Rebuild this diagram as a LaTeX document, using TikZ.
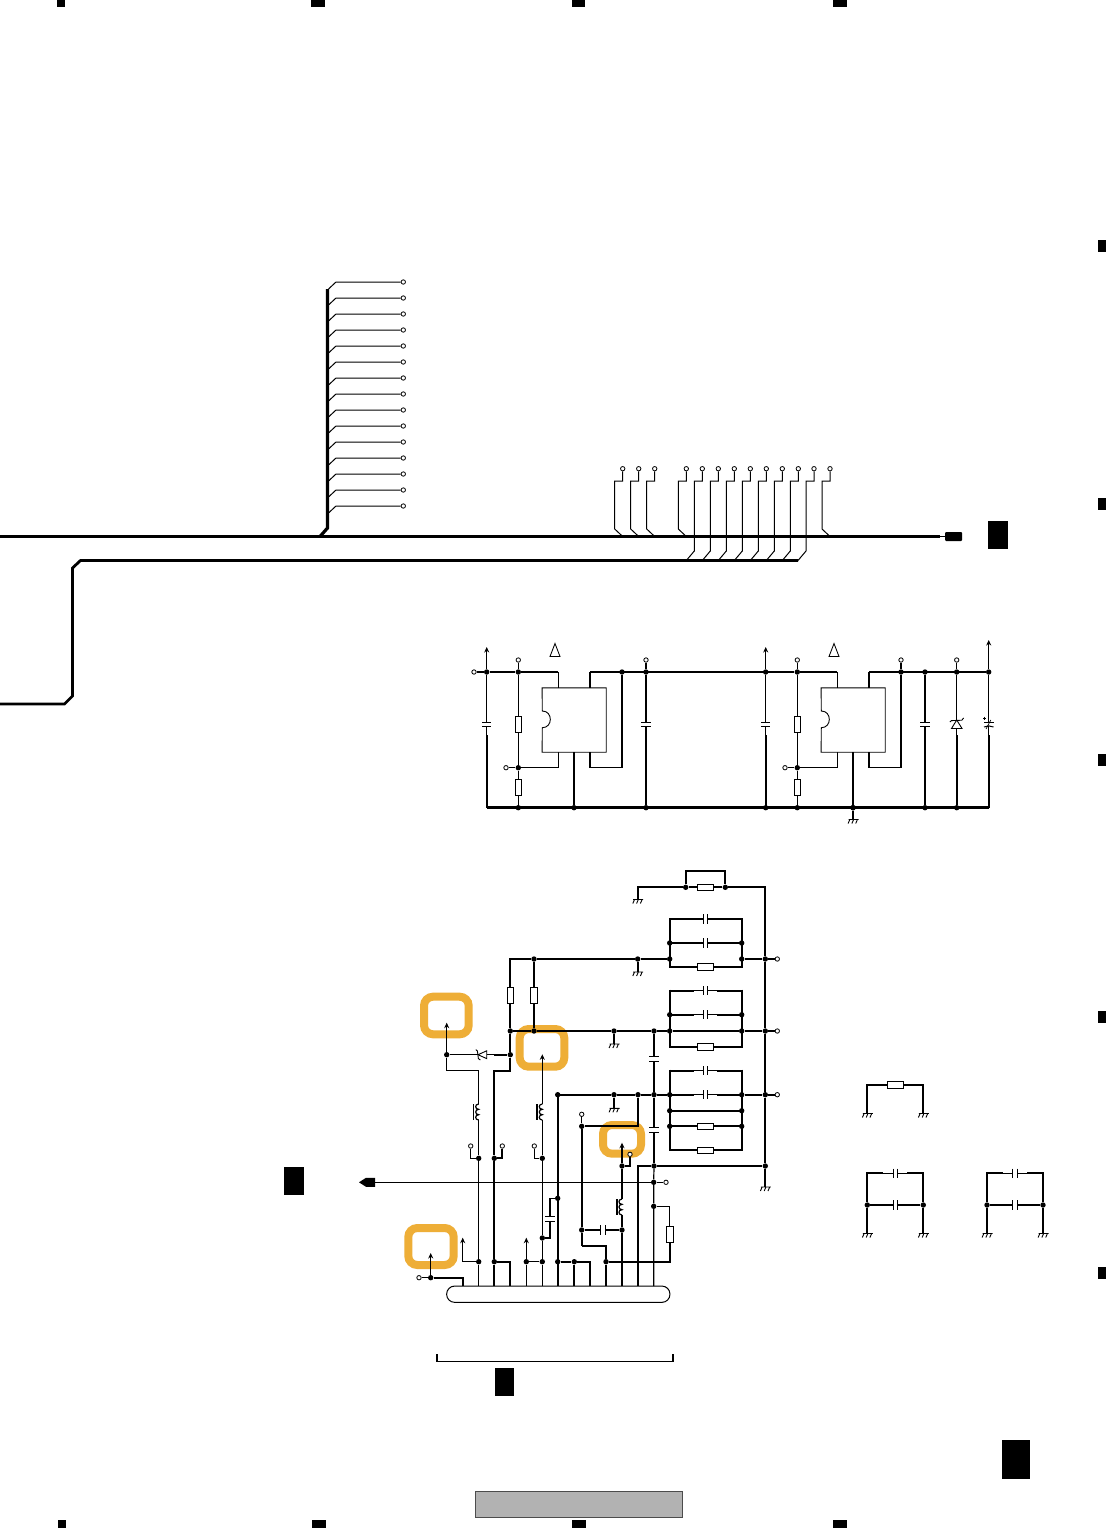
\documentclass[tikz,border=0pt]{standalone}
\usetikzlibrary{arrows.meta}
\definecolor{hilite}{HTML}{EEAE37}
\definecolor{pagebox}{HTML}{B2B2B2}
\tikzset{
  thinw/.style={line width=1.2pt,line join=miter},
  topw/.style={line width=1.5pt,line join=miter},
  medw/.style={line width=1.9pt,line join=miter},
  thickw/.style={line width=2.3pt,line join=miter},
  busw/.style={line width=2.8pt,line join=miter},
  arrowup/.style={thinw,-{Stealth[length=5.5pt,width=5pt]}},
  dot/.style={circle,fill=black,inner sep=0pt,minimum size=5.4pt},
  term/.style={circle,draw=black,fill=white,line width=0.8pt,inner sep=0pt,minimum size=4.4pt},
  resv/.style={rectangle,draw=black,fill=white,line width=0.9pt,inner sep=0pt,minimum width=6.6pt,minimum height=16pt},
  resh/.style={rectangle,draw=black,fill=white,line width=0.9pt,inner sep=0pt,minimum width=16.4pt,minimum height=6.6pt},
  capv/.style={rectangle,inner sep=0pt,minimum width=9pt,minimum height=4.2pt},
  caph/.style={rectangle,inner sep=0pt,minimum width=4.2pt,minimum height=9pt},
  plate/.style={line width=1pt},
  blackbox/.style={rectangle,fill=black,inner sep=0pt},
  coilbox/.style={rectangle,inner sep=0pt,minimum width=0.2pt,minimum height=16pt},
  halo/.style={draw=hilite,line width=8pt,rounded corners=9pt},
}
\newcommand{\J}[3]{\node[dot] (#1) at (#2,#3) {};}
\newcommand{\Tm}[3]{\node[term] (#1) at (#2,#3) {};}
\newcommand{\CV}[3]{\node[capv] (#1) at (#2,#3) {};
  \draw[plate] (#1.north west) -- (#1.north east) (#1.south west) -- (#1.south east);}
\newcommand{\CH}[3]{\node[caph] (#1) at (#2,#3) {};
  \draw[plate] (#1.north west) -- (#1.south west) (#1.north east) -- (#1.south east);}
\newcommand{\Gnd}[3]{\coordinate (#1) at (#2,#3);
  \draw[line width=0.9pt,shift={(#2,#3)}] (-4.5,0) -- (5.5,0)
    (-3.2,0) -- (-4.9,4) (0.6,0) -- (-1.1,4) (4.4,0) -- (2.7,4);}
\newcommand{\Ind}[3]{\node[coilbox] (#1) at (#2,#3) {};
  \draw[thinw,shift={(#2,#3)}] (0,-8) .. controls (-4,-8) and (-4,-2.6) .. (0,-2.7)
     .. controls (-4,-2.6) and (-4,2.6) .. (0,2.7)
     .. controls (-4,2.6) and (-4,8) .. (0,8);
  \draw[medw,shift={(#2,#3)}] (-5.2,-8) -- (-5.2,8);}
% capacitor and resistor rows of the parallel groups
\newcommand{\CapRow}[2]{\CH{#1}{705.3}{#2}
  \draw[medw] (669.7,#2) -- (694,#2); \draw[thinw] (694,#2) -- (#1.west);
  \draw[thinw] (#1.east) -- (717.3,#2); \draw[medw] (717.3,#2) -- (741.7,#2);}
\newcommand{\ResRow}[2]{\node[resh] (#1) at (705.5,#2) {};
  \draw[medw] (669.7,#2) -- (#1) -- (741.7,#2);}
\begin{document}
\begin{tikzpicture}[x=1pt,y=-1pt]
\useasboundingbox (0,0) rectangle (1106,1529);
\fill[white] (0,0) rectangle (1106,1529);

% ---------- registration marks and page furniture ----------
\foreach \a/\b in {57/65,311/325,572/585,833/847} \fill[black] (\a,0) rectangle (\b,7);
\foreach \a/\b in {58/66,312/326,572/586,833/847} \fill[black] (\a,1520) rectangle (\b,1528);
\foreach \a/\b in {240/252,498/510,754/766,1011/1023,1267/1279} \fill[black] (1098,\a) rectangle (1106,\b);
\node[blackbox,minimum width=20pt,minimum height=28pt] (tabA) at (998,535) {};
\node[blackbox,minimum width=20pt,minimum height=28pt] (tabB) at (294,1181) {};
\node[blackbox,minimum width=19pt,minimum height=28pt] (tabC) at (504.5,1382) {};
\node[blackbox,minimum width=28pt,minimum height=39pt] (tabD) at (1016,1459.5) {};
\node[rectangle,draw=black!70,fill=pagebox,line width=0.5pt,inner sep=0pt,minimum width=207pt,minimum height=26pt] (footer) at (578.5,1504) {};

% ---------- highlights ----------
\draw[halo] (424,996.7) rectangle (468.7,1034.3);
\draw[halo] (519.7,1029) rectangle (564.3,1066.7);
\draw[halo] (603,1125) rectangle (641,1153.7);
\draw[halo] (408.3,1228) rectangle (453.7,1265);

% ---------- top buses ----------
\node[rectangle,fill=black,rounded corners=1pt,inner sep=0pt,minimum width=17pt,minimum height=9pt] (conn) at (953.5,536.5) {};
\coordinate (busL) at (0,536.5);
\coordinate (busR) at (940,536.5);
\draw[busw] (busL) -- (busR);
\draw[thinw] (busR) -- (conn);
\coordinate (lowL) at (0,704);
\coordinate (lowR) at (798,560.5);
\draw[busw] (lowL) -- (64.5,704) -- (72.5,696) -- (72.5,568) -- (80.5,560.5) -- (lowR);
\coordinate (vbT) at (327.5,289);
\draw[line width=3.2pt] (vbT) -- (327.5,528) -- (320,536.5);
\foreach \i in {0,...,14}{
  \pgfmathsetmacro{\yy}{282+16*\i}
  \pgfmathsetmacro{\yb}{289+16*\i}
  \Tm{w\i}{403.3}{\yy}
  \draw[line width=1pt] (328.5,\yb) -- (336,\yy) -- (w\i);
}
\foreach \x [count=\n] in {622.7,638.7,654.7,686.3,830}{
  \Tm{p\n}{\x}{468.7}
  \draw[line width=1pt] (p\n) -- (\x,481) -- ++(-8,0) -- ++(0,48) -- (\x,536.5);
}
\foreach \x [count=\n] in {702.3,718.3,734.3,750.3,766.3,782.3,798.3,814}{
  \Tm{q\n}{\x}{468.7}
  \draw[line width=1pt] (q\n) -- (\x,481) -- ++(-8,0) -- ++(0,70) -- ++(-8,9.5);
}

% ---------- regulators ----------
\foreach \p/\dx in {a/0,b/279}{
\begin{scope}[xshift=\dx pt]
  \J{\p1}{486.7}{672}
  \J{\p2}{518.3}{672}
  \J{\p3}{518.3}{767.7}
  \J{\p4}{518.3}{807.7}
  \J{\p5}{574}{807.7}
  \J{\p6}{622}{672}
  \J{\p7}{646}{672}
  \J{\p8}{646}{807.7}
  \Tm{\p t1}{518.3}{660}
  \Tm{\p t2}{506}{767.7}
  \coordinate (\p arr) at (486.7,647);
  \draw[arrowup] (\p1) -- (\p arr);
  \draw[thinw] (\p t1) -- (\p2);
  \CV{\p c1}{486.7}{724.3}
  \draw[thinw] (\p1) -- (\p c1.north);
  \draw[thinw] (\p c1.south) -- (486.7,735);
  \draw[medw] (486.7,735) -- (486.7,807.7);
  \CV{\p c2}{646}{724.3}
  \draw[topw] (\p7) -- (\p c2.north);
  \draw[thinw] (\p c2.south) -- (646,735);
  \draw[thickw] (646,735) -- (\p8);
  \node[resv] (\p r1) at (518.3,724) {};
  \node[resv] (\p r2) at (518.3,787.5) {};
  \draw[thinw] (\p2) -- (\p r1) -- (\p3) -- (\p r2);
  \draw[topw] (\p r2) -- (\p4);
  \draw[thinw] (\p t2) -- (\p3) -- (558.3,767.7) -- (558.3,752);
  \node[rectangle,inner sep=0pt,minimum width=63.7pt,minimum height=64pt] (\p ic) at (574.15,720) {};
  \draw[line width=0.9pt,fill=white] (\p ic.north west) -- (\p ic.north east) -- (\p ic.south east) -- (\p ic.south west)
     -- (542.3,727.7) .. controls (553,727.7) and (553,711) .. (542.3,711) -- cycle;
  \draw[thinw] (558.3,672) -- (558.3,688);
  \draw[thinw] (590,672) -- (590,688);
  \draw[topw] (590,752) -- (590,767.7) -- (622,767.7) -- (\p6);
  \draw[thinw] (574,752) -- (574,760);
  \draw[thickw] (574,760) -- (\p5);
  \draw[line width=0.85pt] (555,643.5) -- (550,656.5) -- (560,656.5) -- cycle;
\end{scope}
}
\J{b2x}{765.7}{807.7}
\Tm{at0}{474}{672}
\Tm{at1}{646}{660}
\Tm{bt1}{901}{660}
\Tm{ct}{956.7}{660}
\J{c1}{956.7}{672}
\J{c2}{988.7}{672}
\J{c3}{956.7}{807.7}
\J{c4}{853}{807.7}
\coordinate (c5) at (988.7,807.7);
\coordinate (c6) at (988.7,640);
\draw[thinw] (at0) -- (a1);
\draw[topw] (a1) -- (a2) -- (558.3,672);
\draw[topw] (590,672) -- (b2);
\draw[topw] (b2) -- (837.3,672);
\draw[topw] (869,672) -- (c2);
\draw[thinw] (at1) -- (a7);
\draw[thinw] (bt1) -- (b6);
\draw[thinw] (ct) -- (c1);
\draw[arrowup] (c2) -- (c6);
\draw[busw] (a1 |- a4) -- (c5);
\Gnd{g0}{853}{819.5}
\draw[thinw] (c4) -- (g0);
% zener
\draw[thinw] (c1) -- (956.7,720);
\draw[line width=0.9pt] (956.7,720) -- (951.5,728.5) -- (962,728.5) -- cycle;
\draw[line width=0.9pt] (949.8,722) -- (951.5,720.6) -- (961.8,720.2) -- (963.6,718);
\draw[thinw] (956.7,728.5) -- (956.7,735);
\draw[thickw] (956.7,735) -- (c3);
% polarised capacitor
\draw[thinw] (c2) -- (988.7,722);
\draw[plate] (984,722) -- (993.5,722);
\draw[plate] (984,727) .. controls (987,725.5) and (990.5,725.5) .. (993.5,727);
\draw[line width=0.7pt] (983,718) -- (986,718) (984.5,716.5) -- (984.5,719.5);
\draw[line width=0.7pt] (986,729) -- (990.8,720);
\draw[thinw] (988.7,726) -- (988.7,735);
\draw[thickw] (988.7,735) -- (c5);

% ---------- lower block : power rails ----------
\J{l1}{685.7}{887.3}
\J{l2}{725.3}{887.3}
\J{l3}{765.3}{959}
\J{l4}{765.3}{1031}
\J{l5}{765.3}{1094.7}
\J{l6}{765.3}{1166}
\Tm{o1}{777.3}{959}
\Tm{o2}{777.3}{1031}
\Tm{o3}{777.3}{1094.7}
\Gnd{g1}{637.7}{899.5}
\Gnd{g2}{637.7}{972}
\Gnd{g3}{614}{1044}
\Gnd{g4}{614}{1108.3}
\Gnd{g5}{765.3}{1187}
\node[resh] (r0) at (705.5,887.3) {};
\draw[medw] (g1) -- (637.7,887.3) -- (l1) -- (r0) -- (l2) -- (765.3,887.3) -- (l3);
\draw[medw] (l1) -- (685.7,871.3) -- (725.3,871.3) -- (l2);
\draw[medw] (l3) -- (l4) -- (l5) -- (l6);
\draw[medw] (l6) -- (g5);

% group 1
\CapRow{gc1}{919}
\CapRow{gc2}{943}
\ResRow{gr1}{967}
\draw[medw] (669.7,918) -- (669.7,968);
\draw[medw] (741.7,918) -- (741.7,968);
\foreach \n/\x/\y in {e1/669.7/943,e2/741.7/943,e3/669.7/959,e4/741.7/959,e5/534/959,e6/637.7/959}{\J{\n}{\x}{\y}}
% group 2
\CapRow{gc3}{990.7}
\CapRow{gc4}{1014.7}
\ResRow{gr2}{1046.7}
\draw[medw] (669.7,989.7) -- (669.7,1047.7);
\draw[medw] (741.7,989.7) -- (741.7,1047.7);
\foreach \n/\x/\y in {f1/669.7/1014.7,f2/741.7/1014.7,f3/669.7/1031,f4/741.7/1031,f5/510.3/1031,f6/534/1031,f7/614/1031,f8/654/1031}{\J{\n}{\x}{\y}}
% group 3
\CapRow{gc5}{1070.7}
\CapRow{gc6}{1094.7}
\ResRow{gr3}{1126.3}
\ResRow{gr4}{1150.3}
\draw[medw] (669.7,1110.7) -- (741.7,1110.7);
\draw[medw] (669.7,1069.7) -- (669.7,1151.3);
\draw[medw] (741.7,1069.7) -- (741.7,1151.3);
\foreach \n/\x/\y in {h1/669.7/1094.7,h2/741.7/1094.7,h3/669.7/1110.7,h4/741.7/1110.7,h5/669.7/1126.3,h6/741.7/1126.3,h7/614/1094.7,h8/638/1094.7,h9/654/1094.7}{\J{\n}{\x}{\y}}

% rails
\draw[medw] (f5) -- (510.3,959) -- (e5) -- (e6) -- (e3);
\draw[medw] (e4) -- (l3) -- (o1);
\draw[busw] (f5) -- (f6) -- (f7) -- (f8) -- (f3) -- (f4) -- (l4);
\draw[medw] (l4) -- (o2);
\draw[medw] (h2) -- (l5) -- (o3);
\draw[medw] (557.7,1286) -- (557.7,1094.7) -- (h7) -- (h8) -- (h9) -- (h1);
\draw[medw] (e6) -- (g2);
\draw[medw] (f7) -- (g3);
\draw[medw] (h7) -- (g4);
\node[resv] (r1) at (510.3,995.3) {};
\node[resv] (r2) at (534,995.3) {};
\draw[thinw] (510.3,959) -- (r1) -- (f5);
\draw[medw] (e5) -- (r2);
\draw[medw] (r2) -- (f6);
% decoupling capacitors on the 654 rail
\CV{dc1}{654}{1058.7}
\CV{dc2}{654}{1130}
\J{k1}{654}{1166}
\draw[thickw] (f8) -- (654,1050);
\draw[thinw] (654,1050) -- (dc1.north);
\draw[thinw] (dc1.south) -- (654,1068);
\draw[thickw] (654,1068) -- (h9) -- (654,1122);
\draw[thinw] (654,1122) -- (dc2.north);
\draw[thinw] (dc2.south) -- (654,1140);
\draw[thickw] (654,1140) -- (k1);
\draw[medw] (638,1286) -- (638,1166) -- (k1) -- (l6);

% ---------- connector and pins ----------
\node[rectangle,draw=black,line width=1pt,fill=white,rounded corners=8pt,inner sep=0pt,minimum width=223.3pt,minimum height=16.3pt] (cn) at (558.3,1294.2) {};
\foreach \n/\x in {1/462.7,2/478.7,3/494.3,4/510.3,5/526.3,6/542.3,7/558.3,8/574.3,9/590,10/606,11/622,12/638,13/653.7}{
  \coordinate (pin\n) at (\x,1286);
}
% pin 1
\J{s1}{430.7}{1277.7}
\Tm{s2}{419}{1277.7}
\coordinate (s3) at (430.7,1253);
\draw[medw] (pin1) -- (462.7,1277.7) -- (s1);
\draw[thinw] (s2) -- (s1);
\draw[arrowup,line width=1.3pt] (s1) -- (s3);
% pin 2
\J{s4}{478.7}{1261.7}
\J{s5}{478.7}{1158.3}
\Tm{s6}{470.7}{1146}
\coordinate (s7) at (462.7,1237.7);
\Ind{i1}{478.7}{1112}
\J{s8}{446.7}{1054.7}
\coordinate (s9) at (446.7,1022.7);
\draw[thinw] (pin2) -- (s4) -- (s5) -- (i1.south);
\draw[thinw] (i1.north) -- (478.7,1070.7) -- (446.7,1070.7) -- (s8);
\draw[arrowup] (s8) -- (s9);
\draw[thinw] (s6) -- (470.7,1158.3) -- (s5);
\draw[arrowup] (462.7,1261.7) -- (s7);
\draw[thinw] (s4) -- (462.7,1261.7);
% zener on feedback line
\J{s10}{510.3}{1054.7}
\draw[thinw] (s8) -- (478,1054.7);
\draw[line width=0.9pt] (478,1054.7) -- (486.7,1050.8) -- (486.7,1058.6) -- cycle;
\draw[line width=0.9pt] (475.8,1049.6) -- (477.4,1051) -- (478.4,1058.6) -- (480.4,1060);
\draw[thinw] (486.7,1054.7) -- (494.3,1054.7);
\draw[medw] (494.3,1054.7) -- (s10);
% pin 3
\J{s11}{494.3}{1261.7}
\J{s12}{494.3}{1158.3}
\Tm{s13}{502.3}{1146}
\draw[medw] (pin3) -- (s11) -- (s12) -- (494.3,1070.7) -- (510.3,1070.7) -- (s10) -- (f5);
\draw[medw] (s12) -- (502.3,1158.3) -- (s13);
\draw[thickw] (s11) -- (510.3,1261.7) -- (pin4);
% pins 5,6
\J{s14}{526.3}{1261.7}
\J{s15}{542.3}{1261.7}
\coordinate (s16) at (526.3,1237.7);
\draw[thinw] (pin5) -- (s14);
\draw[arrowup] (s14) -- (s16);
\draw[thinw] (s14) -- (s15);
\J{s17}{542.3}{1238}
\J{s18}{542.3}{1158.3}
\Tm{s19}{534.3}{1146}
\Ind{i2}{542.3}{1112}
\coordinate (s20) at (542.3,1054.3);
\draw[thinw] (pin6) -- (s15) -- (s17) -- (s18) -- (i2.south);
\draw[arrowup] (i2.north) -- (s20);
\draw[thinw] (s19) -- (534.3,1158.3) -- (s18);
\CV{dc3}{550}{1219}
\J{s21}{557.7}{1198.3}
\draw[topw] (s17) -- (550,1238) -- (dc3.south);
\draw[topw] (dc3.north) -- (550,1198.3) -- (s21);
% pins 7-9
\J{s22}{557.7}{1261.7}
\J{s23}{574.3}{1261.7}
\draw[thickw] (s22) -- (s23) -- (590,1261.7) -- (pin9);
\draw[thickw] (s23) -- (pin8);
% pin 10 and the 582 feed
\J{s24}{606}{1261.7}
\J{s25}{581.7}{1230}
\J{s26}{581.7}{1126.3}
\Tm{s27}{581.7}{1114.3}
\J{s28}{622}{1230}
\CH{dc4}{603.2}{1230}
\draw[medw] (h8) -- (638,1126.3) -- (s26);
\draw[thinw] (s27) -- (s26);
\draw[medw] (s26) -- (s25) -- (581.7,1246);
\draw[thickw] (581.7,1246) -- (606,1246) -- (s24) -- (pin10);
\draw[medw] (s25) -- (590,1230);
\draw[thinw] (590,1230) -- (dc4.west);
\draw[thinw] (dc4.east) -- (s28);
% pin 11
\J{s29}{622}{1166}
\Tm{s30}{630}{1154.3}
\coordinate (s31) at (622,1142.7);
\Ind{i3}{622}{1207}
\draw[topw] (pin11) -- (s28) -- (i3.south);
\draw[topw] (i3.north) -- (s29);
\draw[arrowup] (s29) -- (s31);
\draw[thinw] (s29) -- (630,1166) -- (s30);
% pin 13 and output line
\J{s32}{653.7}{1182.3}
\J{s33}{653.7}{1206.3}
\Tm{s34}{666}{1182.3}
\node[resv] (r3) at (669.7,1234.5) {};
\draw[thinw] (k1) -- (s32) -- (s33) -- (pin13);
\draw[thinw] (s33) -- (669.7,1206.3) -- (r3);
\draw[thickw] (r3) -- (669.7,1261.7) -- (s24);
\fill[black] (359,1182.3) -- (366,1177.8) -- (375,1177.8) -- (375,1186.8) -- (366,1186.8) -- cycle;
\coordinate (s35) at (372,1182.3);
\draw[thinw] (s35) -- (s32) -- (s34);
\J{s36}{557.7}{1094.7}
% bracket
\coordinate (br1) at (437,1354);
\coordinate (br2) at (673,1354);
\draw[topw] (br1) -- (437,1361.5) -- (673,1361.5) -- (br2);

% ---------- small groups at right ----------
\node[resh] (x1) at (895.5,1085) {};
\Gnd{xg1}{867.3}{1113.5}
\Gnd{xg2}{923.3}{1113.5}
\draw[medw] (xg1) -- (867.3,1085) -- (x1) -- (923.3,1085) -- (xg2);
\foreach \lab/\xl/\xr/\xa/\xb/\xc in {y/867.3/923.3/883.3/895.3/906.7,z/987/1043/1003.3/1015/1026.7}{
  \CH{\lab c1}{\xb}{1173.3}
  \CH{\lab c2}{\xb}{1205}
  \J{\lab j1}{\xl}{1205}
  \J{\lab j2}{\xr}{1205}
  \Gnd{\lab g1}{\xl}{1233.5}
  \Gnd{\lab g2}{\xr}{1233.5}
  \draw[medw] (\lab g1) -- (\lab j1) -- (\xl,1173.3) -- (\xa,1173.3);
  \draw[medw] (\lab g2) -- (\lab j2) -- (\xr,1173.3) -- (\xc,1173.3);
  \draw[medw] (\lab j1) -- (\xa,1205) (\lab j2) -- (\xc,1205);
  \draw[thinw] (\xa,1173.3) -- (\lab c1.west) (\lab c1.east) -- (\xc,1173.3);
  \draw[thinw] (\xa,1205) -- (\lab c2.west) (\lab c2.east) -- (\xc,1205);
}
\end{tikzpicture}
\end{document}
